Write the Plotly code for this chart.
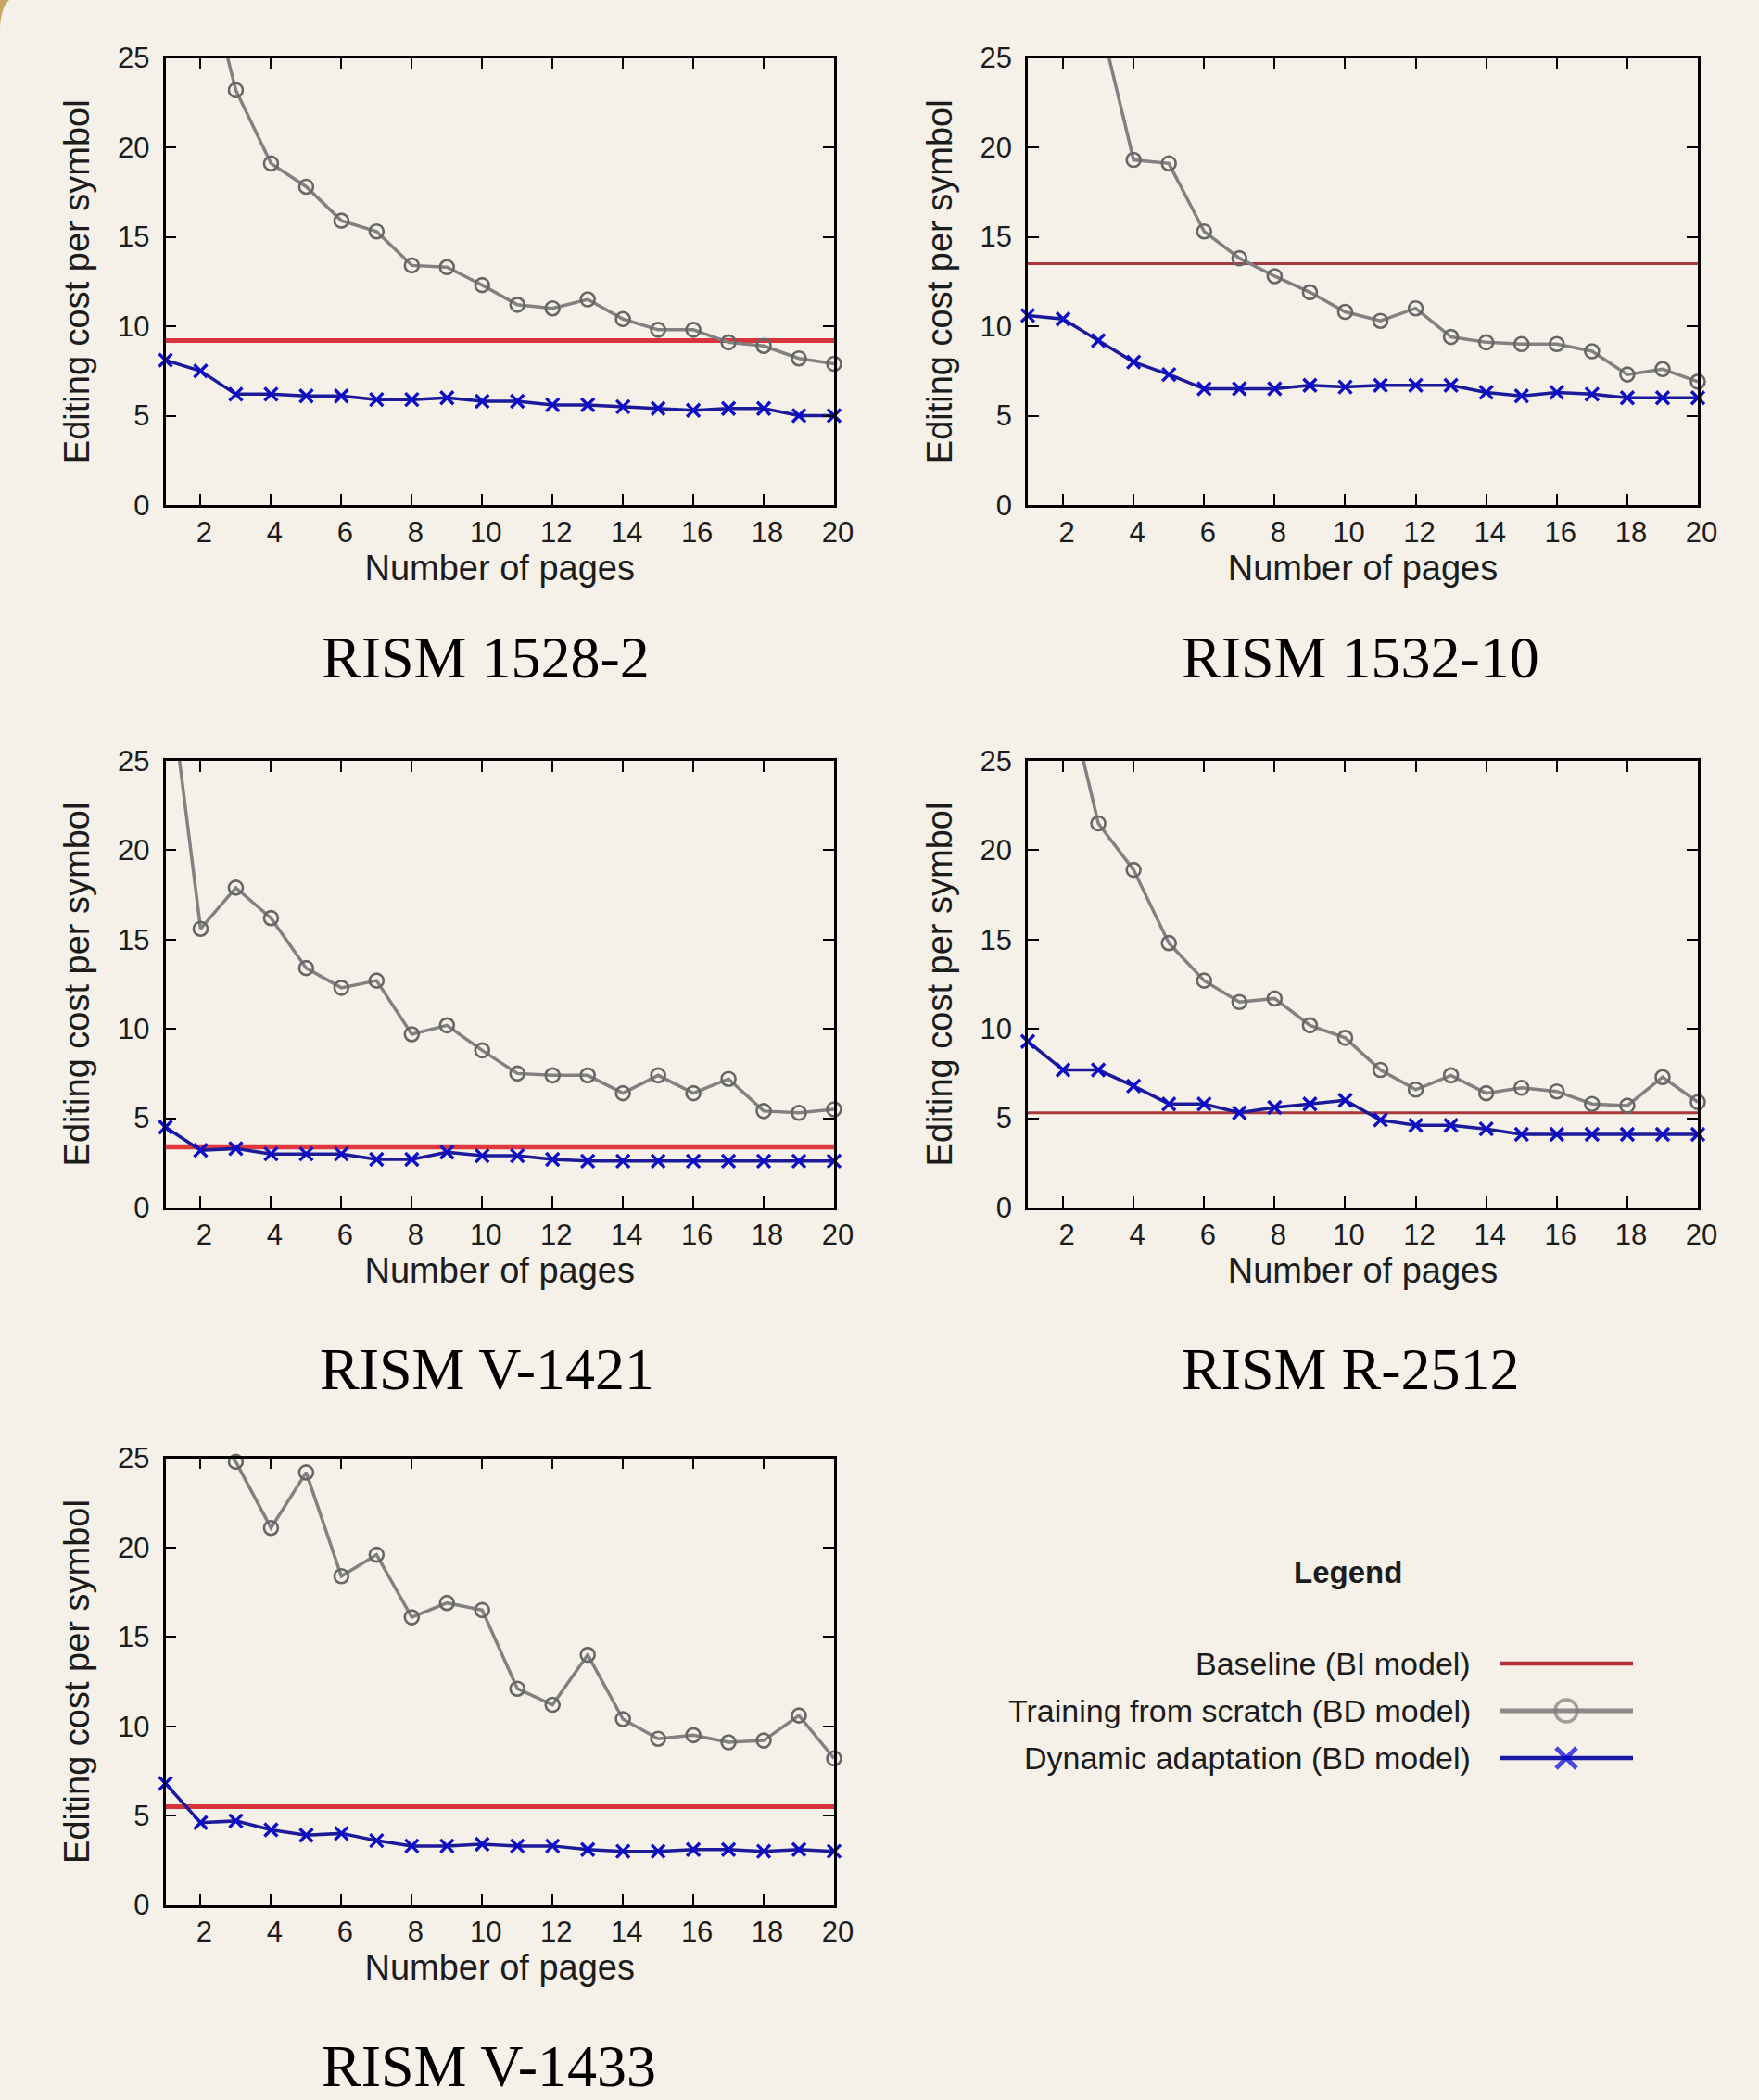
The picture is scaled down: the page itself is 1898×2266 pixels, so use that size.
import plotly.graph_objects as go

# ---------------- data ----------------
pages = list(range(1, 21))
x_ticks = [2, 4, 6, 8, 10, 12, 14, 16, 18, 20]
y_ticks = [0, 5, 10, 15, 20, 25]

captions = ["RISM 1528-2", "RISM 1532-10", "RISM V-1421", "RISM R-2512", "RISM V-1433"]

p1_scratch = [45.0, 31.0, 23.2, 19.1, 17.8, 15.9, 15.3, 13.4, 13.3, 12.3, 11.2, 11.0, 11.5, 10.4, 9.8, 9.8, 9.1, 8.9, 8.2, 7.9]
p1_dynamic = [8.1, 7.5, 6.2, 6.2, 6.1, 6.1, 5.9, 5.9, 6.0, 5.8, 5.8, 5.6, 5.6, 5.5, 5.4, 5.3, 5.4, 5.4, 5.0, 5.0]
p1_baseline = 9.2

p2_scratch = [45.0, 36.0, 27.5, 19.3, 19.1, 15.3, 13.8, 12.8, 11.9, 10.8, 10.3, 11.0, 9.4, 9.1, 9.0, 9.0, 8.6, 7.3, 7.6, 6.9]
p2_dynamic = [10.6, 10.4, 9.2, 8.0, 7.3, 6.5, 6.5, 6.5, 6.7, 6.6, 6.7, 6.7, 6.7, 6.3, 6.1, 6.3, 6.2, 6.0, 6.0, 6.0]
p2_baseline = 13.5

p3_scratch = [31.3, 15.6, 17.9, 16.2, 13.4, 12.3, 12.7, 9.7, 10.2, 8.8, 7.5, 7.4, 7.4, 6.4, 7.4, 6.4, 7.2, 5.4, 5.3, 5.5]
p3_dynamic = [4.5, 3.2, 3.3, 3.0, 3.0, 3.0, 2.7, 2.7, 3.1, 2.9, 2.9, 2.7, 2.6, 2.6, 2.6, 2.6, 2.6, 2.6, 2.6, 2.6]
p3_baseline = 3.4

p4_scratch = [40.0, 29.8, 21.5, 18.9, 14.8, 12.7, 11.5, 11.7, 10.2, 9.5, 7.7, 6.6, 7.4, 6.4, 6.7, 6.5, 5.8, 5.7, 7.3, 5.9]
p4_dynamic = [9.3, 7.7, 7.7, 6.8, 5.8, 5.8, 5.3, 5.6, 5.8, 6.0, 4.9, 4.6, 4.6, 4.4, 4.1, 4.1, 4.1, 4.1, 4.1, 4.1]
p4_baseline = 5.3

p5_scratch = [33.0, 28.0, 24.8, 21.1, 24.2, 18.4, 19.6, 16.1, 16.9, 16.5, 12.1, 11.2, 14.0, 10.4, 9.3, 9.5, 9.1, 9.2, 10.6, 8.2]
p5_dynamic = [6.8, 4.6, 4.7, 4.2, 3.9, 4.0, 3.6, 3.3, 3.3, 3.4, 3.3, 3.3, 3.1, 3.0, 3.0, 3.1, 3.1, 3.0, 3.1, 3.0]
p5_baseline = 5.5

legend_labels = ["Baseline (BI model)", "Training from scratch (BD model)", "Dynamic adaptation (BD model)"]

# ---------------- layout constants ----------------
W, H = 1898, 2266
BG = "#f5f1e9"
FONT = "Liberation Sans, Arial, sans-serif"
TXT = "#1c1c1c"
Y_MAX = 25

def px_x(p):
    return p / W

def px_y(p):
    return 1 - p / H

col_x = [(178.5, 900.0), (1109.0, 1832.0)]
row_y = [(62.5, 545.0), (821.0, 1303.0), (1573.5, 2055.5)]
panel_pos = [(0, 0), (1, 0), (0, 1), (1, 1), (0, 2)]
caption_pos = [(524, 710), (1468, 710), (525, 1477), (1457, 1477), (527, 2229)]
base_style = [("#d8343c", 5), ("#a8383c", 3), ("#e0383c", 5.5), ("#a8383c", 3), ("#d9343c", 5)]

panels = [
    (p1_scratch, p1_dynamic, p1_baseline),
    (p2_scratch, p2_dynamic, p2_baseline),
    (p3_scratch, p3_dynamic, p3_baseline),
    (p4_scratch, p4_dynamic, p4_baseline),
    (p5_scratch, p5_dynamic, p5_baseline),
]

GRAY_LINE = "#818181"
GRAY_MARK = "#666666"
BLUE_LINE = "#1a1a9a"
BLUE_MARK = "#0c0cc8"

fig = go.Figure()
layout_axes = {}

for k, (scratch, dynamic, base) in enumerate(panels):
    sfx = "" if k == 0 else str(k + 1)
    xa, ya = "x" + sfx, "y" + sfx
    c, r = panel_pos[k]
    x0, x1 = col_x[c]
    y0, y1 = row_y[r]
    bcol, bw = base_style[k]

    fig.add_trace(go.Scatter(
        x=[pages[0], pages[-1]], y=[base, base], mode="lines",
        line=dict(color=bcol, width=bw), xaxis=xa, yaxis=ya,
        showlegend=False, hoverinfo="skip"))

    fig.add_trace(go.Scatter(
        x=pages, y=scratch, mode="lines+markers",
        line=dict(color=GRAY_LINE, width=3.5),
        marker=dict(symbol="circle-open", size=15, color=GRAY_MARK,
                    line=dict(width=2.6, color=GRAY_MARK),
                    opacity=[1 if v <= Y_MAX else 0 for v in scratch]),
        cliponaxis=False, xaxis=xa, yaxis=ya, showlegend=False))

    fig.add_trace(go.Scatter(
        x=pages, y=dynamic, mode="lines+markers",
        line=dict(color=BLUE_LINE, width=3.5),
        marker=dict(symbol="x-thin", size=14, color=BLUE_MARK,
                    line=dict(width=3.4, color=BLUE_MARK)),
        cliponaxis=False, xaxis=xa, yaxis=ya, showlegend=False))

    common = dict(showline=True, linecolor="black", linewidth=2.5, mirror="ticks",
                  ticks="inside", ticklen=12, tickwidth=2.2, tickcolor="black",
                  showgrid=False, zeroline=False, automargin=False,
                  tickfont=dict(family=FONT, size=31, color=TXT))
    layout_axes["xaxis" + sfx] = dict(
        common, domain=[px_x(x0), px_x(x1)], range=[pages[0], pages[-1]],
        tickvals=x_ticks, anchor=ya, ticklabelshift=4,
        title=dict(text="Number of pages", font=dict(family=FONT, size=38, color=TXT), standoff=0))
    layout_axes["yaxis" + sfx] = dict(
        common, domain=[px_y(y1), px_y(y0)], range=[0, Y_MAX],
        tickvals=y_ticks, anchor=xa, ticklabelstandoff=8,
        title=dict(text="Editing cost per symbol", font=dict(family=FONT, size=38, color=TXT), standoff=19))

# ---------------- custom legend ----------------
leg_rows = [1795, 1846, 1897]
leg_top, leg_bot = 1770, 1922
leg_ry = [(leg_bot - p) / (leg_bot - leg_top) for p in leg_rows]
layout_axes["xaxis6"] = dict(domain=[px_x(1618), px_x(1762)], range=[0, 1], visible=False,
                             anchor="y6", automargin=False)
layout_axes["yaxis6"] = dict(domain=[px_y(leg_bot), px_y(leg_top)], range=[0, 1], visible=False,
                             anchor="x6", automargin=False)

fig.add_trace(go.Scatter(x=[0, 1], y=[leg_ry[0]] * 2, mode="lines",
                         line=dict(color="#b0303a", width=4.5), xaxis="x6", yaxis="y6",
                         showlegend=False, hoverinfo="skip"))
fig.add_trace(go.Scatter(x=[0, 0.5, 1], y=[leg_ry[1]] * 3, mode="lines+markers",
                         line=dict(color="#8a8a8a", width=5),
                         marker=dict(symbol="circle-open", size=[0, 24, 0], color="#7a7a7a",
                                     line=dict(width=3.5, color="#7a7a7a")),
                         cliponaxis=False, xaxis="x6", yaxis="y6", showlegend=False, hoverinfo="skip"))
fig.add_trace(go.Scatter(x=[0, 0.5, 1], y=[leg_ry[2]] * 3, mode="lines+markers",
                         line=dict(color="#1a1aa8", width=4.5),
                         marker=dict(symbol="x-thin", size=[0, 22, 0], color="#0000d8",
                                     line=dict(width=5, color="#0000d8")),
                         cliponaxis=False, xaxis="x6", yaxis="y6", showlegend=False, hoverinfo="skip"))

annotations = []
for lbl, yp in zip(legend_labels, leg_rows):
    annotations.append(dict(text=lbl, x=px_x(1589), y=px_y(yp), xref="paper", yref="paper",
                            xanchor="right", yanchor="middle", showarrow=False,
                            font=dict(family=FONT, size=34, color=TXT)))
annotations.append(dict(text="<b>Legend</b>", x=px_x(1454), y=px_y(1696), xref="paper", yref="paper",
                        xanchor="center", yanchor="middle", showarrow=False,
                        font=dict(family=FONT, size=33, color=TXT)))

for cap, (cx, cy) in zip(captions, caption_pos):
    annotations.append(dict(text=cap, x=px_x(cx), y=px_y(cy), xref="paper", yref="paper",
                            xanchor="center", yanchor="middle", showarrow=False,
                            font=dict(family="Liberation Serif, Times New Roman, serif", size=64, color="#000000")))

shapes = [dict(type="path", xref="paper", yref="paper",
               path=f"M 0,1 L {px_x(10)},1 Q {px_x(1)},{px_y(8)} 0,{px_y(30)} Z",
               fillcolor="#c9a562", line=dict(width=0), layer="below")]

fig.update_layout(
    width=W, height=H, autosize=False,
    margin=dict(l=0, r=0, t=0, b=0, autoexpand=False),
    paper_bgcolor=BG, plot_bgcolor=BG,
    annotations=annotations, shapes=shapes,
    **layout_axes,
)

fig.write_html("out.html",
               config={"displayModeBar": False},
               post_script="document.body.style.margin='0';document.body.style.background='#f5f1e9';")
